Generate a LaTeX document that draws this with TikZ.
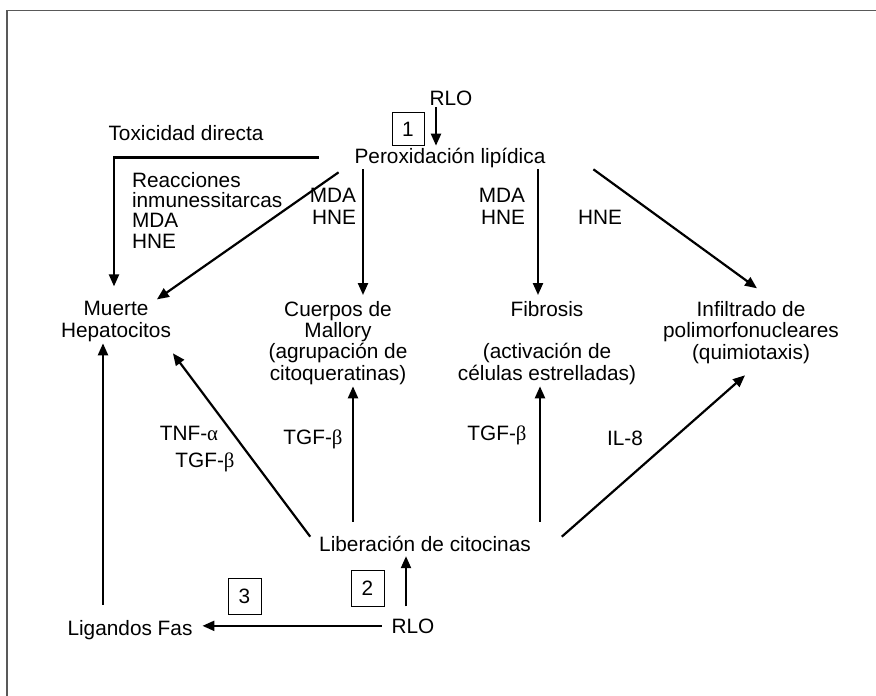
\documentclass[tikz,border=0pt]{standalone}
\usepackage{fontspec}
\setmainfont{Liberation Sans}
\newfontfamily\grk{Liberation Serif}
\usetikzlibrary{arrows.meta}
\begin{document}
\begin{tikzpicture}[x=1pt,y=-1pt,
  every node/.style={font=\fontsize{20.8}{21.3}\selectfont, inner sep=0pt, outer sep=2pt},
  lbl/.style={anchor=base},
  numbox/.style={draw, line width=1pt, minimum width=32pt, minimum height=33pt, inner sep=0pt, outer sep=0pt},
  arr/.style={line width=2.2pt, -{Triangle[length=12pt,width=10pt]}},
  frame/.style={line width=1.5pt, draw=black!65}]
\useasboundingbox (0,0) rectangle (876,696);
\draw[frame] (7,696) -- (7,10.5) -- (876,10.5);

% nodes (for multi-line nodes the base anchor is the last line's baseline)
\node[lbl] (rlo1) at (451,105) {RLO};
\node[numbox] (box1) at (408,129) {1};
\node[lbl] (perox) at (450,163) {Peroxidación lipídica};
\node[lbl] (tox) at (186,140) {Toxicidad directa};
\node[anchor=base west, align=left, font=\fontsize{20.8}{20.3}\selectfont] (reac) at (130,248) {Reacciones\\inmunessitarcas\\MDA\\HNE};
\node[anchor=base east, align=right] (mdal) at (358,224) {MDA\\HNE};
\node[anchor=base east, align=right] (mdar) at (527,224) {MDA\\HNE};
\node[lbl] (hne) at (600,224) {HNE};
\node[lbl, align=center] (muerte) at (116,337) {Muerte\\Hepatocitos};
\node[lbl, align=center] (cuerpos) at (338,380) {Cuerpos de\\Mallory\\(agrupación de\\citoqueratinas)};
\node[lbl, align=center] (fibrosis) at (547,380) {Fibrosis\\[21.3pt](activación de\\células estrelladas)};
\node[lbl, align=center] (infil) at (751,359) {Infiltrado de\\polimorfonucleares\\(quimiotaxis)};
\node[lbl] (tnf) at (189,440) {TNF-{\grk α}};
\node[lbl] (tgfa) at (205,467) {TGF-{\grk β}};
\node[lbl] (tgfb) at (313,444) {TGF-{\grk β}};
\node[lbl] (tgfc) at (497,440) {TGF-{\grk β}};
\node[lbl] (il8) at (625,445) {IL-8};
\node[lbl] (liber) at (425,551) {Liberación de citocinas};
\node[numbox, minimum width=33pt, minimum height=36pt] (box2) at (367.5,588.5) {2};
\node[lbl] (rlo2) at (413,633) {RLO};
\node[lbl] (ligandos) at (130,635) {Ligandos Fas};
\node[numbox, minimum width=33pt, minimum height=36pt] (box3) at (244.5,596.5) {3};

% connectors
\draw[arr] (rlo1.south -| 436,0) -- (perox.north -| 436,0);
\draw[arr] ([xshift=-34pt]perox.west) -| ([yshift=13pt]muerte.north -| 114,0);
\draw[arr] ([shift={(-14pt,-3pt)}]perox.south west) -- ([xshift=-16pt]muerte.north east);
\draw[arr] (perox.south -| 363,0) -- ([yshift=4pt]cuerpos.north -| 363,0);
\draw[arr] (perox.south -| 538,0) -- ([yshift=4pt]fibrosis.north -| 538,0);
\draw[arr] ([xshift=46pt]perox.south east) -- ([shift={(6pt,11pt)}]infil.north);
\draw[arr] ([yshift=13pt]ligandos.north -| 103,0) -- (muerte.south -| 103,0);
\draw[arr] ([shift={(-7pt,-3pt)}]liber.north west) -- ([yshift=-10pt]muerte.south east);
\draw[arr] ([yshift=12pt]liber.north -| 353,0) -- (cuerpos.south -| 353,0);
\draw[arr] ([yshift=12pt]liber.north -| 540,0) -- (fibrosis.south -| 540,0);
\draw[arr] ([shift={(29pt,-3pt)}]liber.north east) -- ([shift={(-6pt,-10pt)}]infil.south);
\draw[arr] ([yshift=10pt]rlo2.north -| 406,0) -- ([yshift=-3pt]liber.south -| 406,0);
\draw[arr] ([xshift=-8pt]rlo2.west) -- ([xshift=8pt]ligandos.east |- rlo2.west);
\end{tikzpicture}
\end{document}
